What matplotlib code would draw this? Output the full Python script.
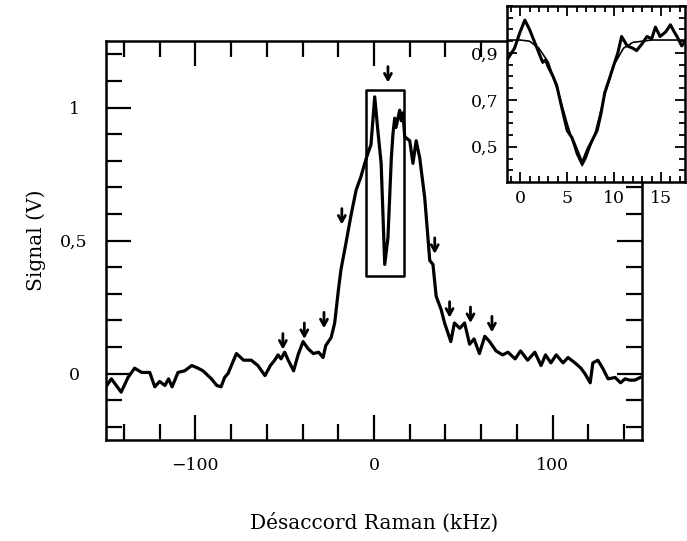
import numpy as np
import matplotlib.pyplot as plt
from matplotlib.ticker import MultipleLocator, FixedLocator, FuncFormatter
from matplotlib.patches import Rectangle

plt.rcParams['font.family'] = 'DejaVu Serif'

# spectre Raman (kHz, V)
detuning = [-150.7, -147, -141.5, -137.7, -134, -130, -125.5, -122.7, -120, -117, -115, -113,
            -109.7, -106, -102, -98.5, -95.7, -91, -88, -85.6, -83.6, -81.7, -77, -73, -68.7,
            -65, -61, -58, -55.6, -53.7, -52, -50, -48, -45, -42.5, -39.7, -37, -34, -31,
            -28.5, -27, -24, -22, -20, -18.5, -15.7, -13, -10, -7.3, -5.2, -3.3, -1.7, 0.4,
            2.2, 4, 6, 7.8, 9.7, 10.6, 11.6, 12.3, 14.4, 15.3, 16.2, 17.2, 20, 21.8, 23.6,
            25.6, 28.4, 31.2, 33, 34.8, 37.6, 39.5, 43, 45, 48, 50.7, 53.5, 56, 59, 62, 64.7,
            68.3, 72, 75, 79, 82, 86, 90, 93.5, 96, 99, 102, 105.8, 108.6, 112.5, 115.8, 118,
            121, 122.5, 125.3, 128, 131, 135, 138, 140.5, 143, 146, 149]
signal = [-0.056, -0.02, -0.07, -0.015, 0.02, 0.004, 0.004, -0.05, -0.03, -0.045, -0.02, -0.05,
          0.004, 0.01, 0.03, 0.02, 0.01, -0.02, -0.045, -0.05, -0.015, 0.0, 0.075, 0.05, 0.05,
          0.03, -0.008, 0.03, 0.05, 0.07, 0.055, 0.08, 0.05, 0.01, 0.07, 0.12, 0.094, 0.075,
          0.08, 0.06, 0.105, 0.135, 0.19, 0.31, 0.39, 0.49, 0.59, 0.69, 0.74, 0.79, 0.83, 0.86,
          1.04, 0.91, 0.79, 0.41, 0.51, 0.81, 0.90, 0.96, 0.925, 0.99, 0.95, 0.98, 0.89, 0.875,
          0.79, 0.875, 0.81, 0.66, 0.425, 0.41, 0.29, 0.24, 0.19, 0.12, 0.19, 0.17, 0.19, 0.11,
          0.13, 0.075, 0.14, 0.12, 0.085, 0.07, 0.08, 0.055, 0.085, 0.05, 0.08, 0.03, 0.07,
          0.04, 0.07, 0.04, 0.06, 0.04, 0.02, 0.0, -0.035, 0.04, 0.05, 0.02, -0.02, -0.015,
          -0.035, -0.02, -0.025, -0.025, -0.015]

# fleches (position, pointe)
arrow_x = [7.8, -18, 34, -51, -39, -28, 42.3, 54, 66]
arrow_tip = [1.094, 0.56, 0.45, 0.09, 0.13, 0.17, 0.21, 0.19, 0.155]

# cadre autour du creux
box_x = [-4.3, 16.8]
box_y = [0.368, 1.064]

# zoom sur le creux
zoom_x = [-1.4, -0.6, 0.0, 0.5, 1.0, 1.6, 2.0, 2.4, 2.7, 3.0, 3.5, 3.9, 4.3, 5.0, 5.5, 5.9,
          6.3, 6.6, 7.2, 7.7, 8.2, 8.6, 9.0, 9.5, 9.9, 10.4, 10.8, 11.4, 12.0, 12.4, 13.0,
          13.5, 14.0, 14.4, 14.9, 15.5, 16.0, 16.4, 16.7, 17.2, 17.6]
zoom_sig = [0.87, 0.92, 0.99, 1.04, 1.0, 0.94, 0.90, 0.86, 0.87, 0.84, 0.80, 0.76, 0.69, 0.57,
            0.54, 0.50, 0.46, 0.43, 0.49, 0.53, 0.57, 0.64, 0.73, 0.79, 0.84, 0.90, 0.97,
            0.93, 0.92, 0.91, 0.94, 0.97, 0.96, 1.01, 0.97, 0.99, 1.02, 0.99, 0.97, 0.93, 0.95]
fit_x = [-1.4, 0, 1, 2, 3, 4, 5, 6, 6.6, 7, 8, 9, 10, 11, 12, 13, 14, 15, 17.6]
fit_sig = [0.955, 0.955, 0.95, 0.92, 0.86, 0.74, 0.60, 0.47, 0.42, 0.45, 0.56, 0.72, 0.85,
           0.92, 0.945, 0.95, 0.955, 0.955, 0.955]
zoom_yticks = [0.5, 0.7, 0.9]

comma = FuncFormatter(lambda v, p: ('%g' % v).replace('.', ',').replace('-', '\u2212'))

fig = plt.figure(figsize=(6.87, 5.41), dpi=100)
ax = fig.add_axes([106/687, 1 - 440/541, 536/687, 399/541])
ax.plot(detuning, signal, color='black', lw=2.3, solid_joinstyle='round')
ax.set_xlim(-150, 150)
ax.set_ylim(-0.25, 1.25)
ax.xaxis.set_major_locator(MultipleLocator(100))
ax.xaxis.set_minor_locator(MultipleLocator(20))
ax.yaxis.set_major_locator(MultipleLocator(0.5))
ax.yaxis.set_minor_locator(MultipleLocator(0.1))
ax.yaxis.set_major_formatter(comma)
ax.xaxis.set_major_formatter(comma)
ax.tick_params(which='both', direction='in', top=True, right=True, width=1.6, labelsize=12.5)
ax.tick_params(which='major', length=18)
ax.tick_params(which='minor', length=11.5)
ax.tick_params(axis='x', which='major', pad=12)
ax.tick_params(axis='y', which='major', pad=23)
for t in ax.get_yticklabels():
    t.set_horizontalalignment('center')
for s in ax.spines.values():
    s.set_linewidth(1.8)
ax.set_xlabel('Désaccord Raman (kHz)', fontsize=14.5, labelpad=28)
ax.set_ylabel('Signal (V)', fontsize=14.5, labelpad=10)

ax.add_patch(Rectangle((box_x[0], box_y[0]), box_x[1] - box_x[0], box_y[1] - box_y[0],
                       fill=False, lw=1.8, joinstyle='round', color='black'))
for xa, ya in zip(arrow_x, arrow_tip):
    ax.annotate('', xy=(xa, ya), xytext=(xa, ya + 0.06),
                arrowprops=dict(arrowstyle='->,head_length=0.45,head_width=0.25',
                                lw=2, color='black', shrinkA=0, shrinkB=0))

ins = fig.add_axes([507/687, 1 - 182/541, 178/687, 176/541])
ins.set_facecolor('white')
ins.plot(zoom_x, zoom_sig, color='black', lw=2.2, solid_joinstyle='round')
ins.plot(fit_x, fit_sig, color='black', lw=1.2)
ins.set_xlim(-1.4, 17.55)
ins.set_ylim(0.35, 1.10)
ins.xaxis.set_major_locator(MultipleLocator(5))
ins.xaxis.set_minor_locator(MultipleLocator(1))
ins.yaxis.set_major_locator(FixedLocator(zoom_yticks))
ins.yaxis.set_minor_locator(MultipleLocator(0.05))
ins.yaxis.set_major_formatter(comma)
ins.tick_params(which='both', direction='in', top=True, right=True, width=1.3, labelsize=12.5)
ins.tick_params(which='major', length=7, pad=6)
ins.tick_params(which='minor', length=4.5)
for s in ins.spines.values():
    s.set_linewidth(1.8)

fig.savefig('out.png', dpi=100)
